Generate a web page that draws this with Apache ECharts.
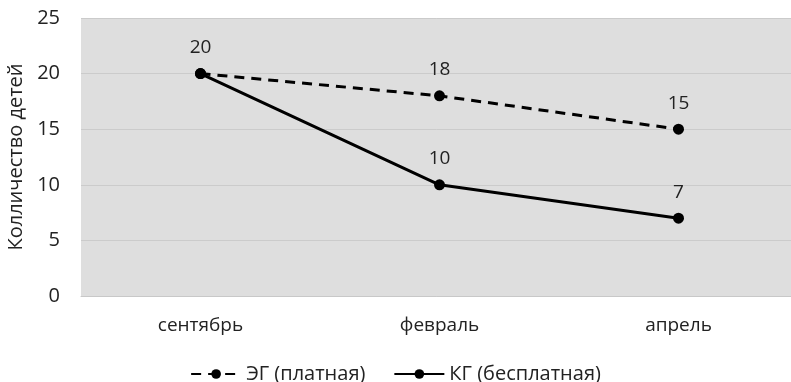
<!DOCTYPE html>
<html>
<head>
<meta charset="utf-8">
<script src="https://cdn.jsdelivr.net/npm/echarts@6/dist/echarts.min.js"></script>
<style>
  html, body { margin: 0; padding: 0; background: #ffffff; }
  #chart { width: 791px; height: 382px; }
</style>
</head>
<body>
<div id="chart"></div>
<script>
// Months of observation
const categories = ['сентябрь', 'февраль', 'апрель'];
// Children count per group
const paidGroup = [20, 18, 15];   // ЭГ (платная)
const freeGroup = [20, 10, 7];    // КГ (бесплатная)
const yTicks = { min: 0, max: 25, interval: 5 };

const FONT = '"Open Sans", "Noto Sans", sans-serif';
const TEXT = '#222222';
const chart = echarts.init(document.getElementById('chart'));

const labelStyle = {
  show: true,
  position: 'top',
  distance: 11,
  fontSize: 19,
  fontFamily: FONT,
  color: TEXT
};

// both groups start at the same point: show that value once
const freeData = freeGroup.map((v, i) => i === 0 ? { value: v, label: { show: false } } : v);

chart.setOption({
  animation: false,
  textStyle: { fontFamily: FONT },
  grid: {
    left: 81,
    top: 18,
    width: 717,
    height: 278,
    show: true,
    backgroundColor: '#dedede',
    borderWidth: 0,
    outerBoundsMode: 'none',
    containLabel: false
  },
  legend: {
    top: 359,
    left: 'center',
    itemWidth: 50,
    itemHeight: 12,
    itemGap: 28,
    textStyle: { fontSize: 20, fontFamily: FONT, color: TEXT },
    data: ['ЭГ (платная)', 'КГ (бесплатная)']
  },
  xAxis: {
    type: 'category',
    data: categories,
    boundaryGap: true,
    axisLine: { show: true, lineStyle: { color: '#c8c8c8', width: 1 } },
    axisTick: { show: false },
    axisLabel: { fontSize: 19, fontFamily: FONT, color: TEXT, margin: 20 }
  },
  yAxis: {
    type: 'value',
    min: yTicks.min,
    max: yTicks.max,
    interval: yTicks.interval,
    name: 'Колличество детей',
    nameLocation: 'middle',
    nameGap: 53,
    nameRotate: 90,
    nameTextStyle: { fontSize: 20, fontFamily: FONT, color: TEXT },
    axisLine: { show: false },
    axisTick: { show: false },
    axisLabel: { fontSize: 20, fontFamily: FONT, color: TEXT, margin: 21 },
    splitLine: { show: true, lineStyle: { color: '#cbcbcb', width: 1 } }
  },
  series: [
    {
      name: 'ЭГ (платная)',
      type: 'line',
      data: paidGroup,
      symbol: 'circle',
      symbolSize: 11,
      lineStyle: { color: '#000000', width: 3, type: [10, 7] },
      itemStyle: { color: '#000000' },
      label: labelStyle
    },
    {
      name: 'КГ (бесплатная)',
      type: 'line',
      data: freeData,
      symbol: 'circle',
      symbolSize: 11,
      lineStyle: { color: '#000000', width: 3 },
      itemStyle: { color: '#000000' },
      label: labelStyle
    }
  ]
});
</script>
</body>
</html>
